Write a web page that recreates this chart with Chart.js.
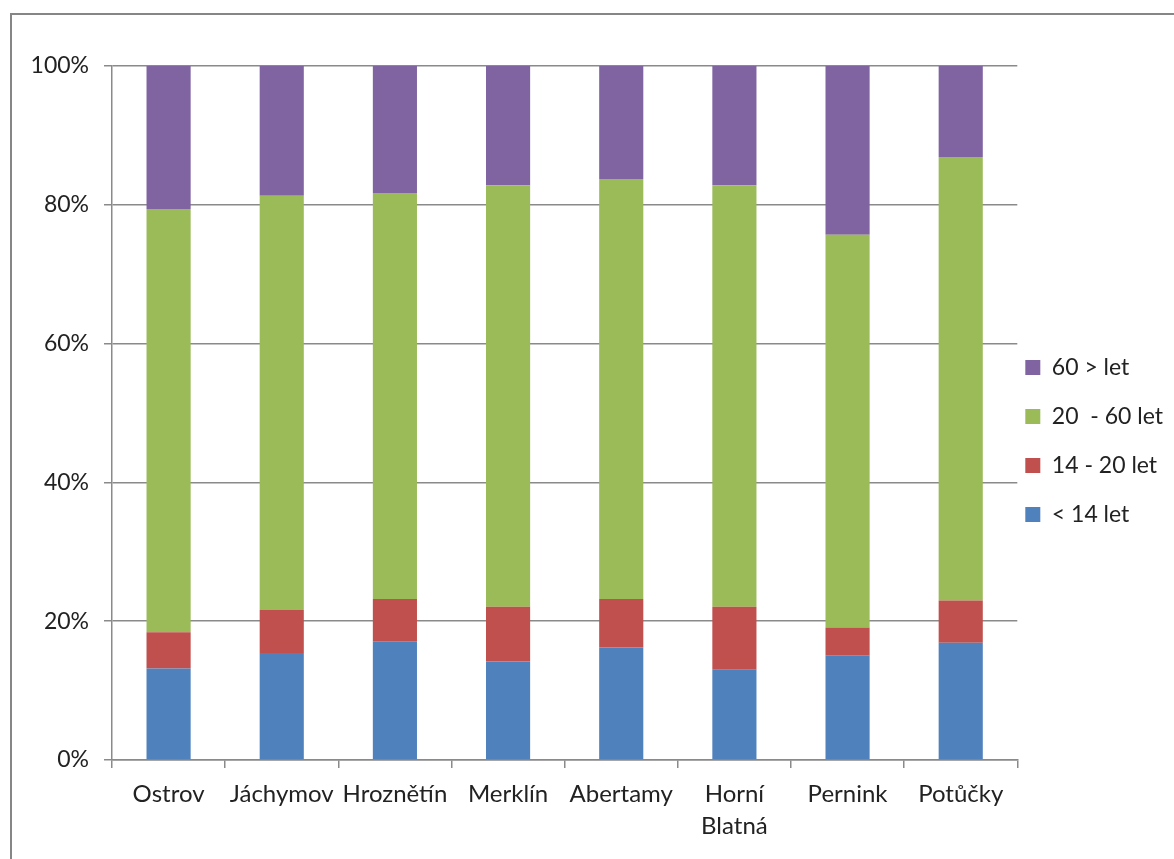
<!DOCTYPE html>
<html>
<head>
<meta charset="utf-8">
<script src="https://cdn.jsdelivr.net/npm/chart.js@4.4.1/dist/chart.umd.min.js"></script>
<style>
    html, body { margin: 0; padding: 0; background: #fff; overflow: hidden; }
    #frame {
        position: absolute; left: 10px; top: 13px; width: 1170px; height: 880px;
        border-left: 2px solid #868686; border-top: 2px solid #868686;
    }
    #wrap { position: absolute; left: 0; top: 0; width: 1162px; height: 870px; }
</style>
</head>
<body>
<div id="frame"><div id="wrap"><canvas id="ageChart"></canvas></div></div>
<script>
// Age structure by town (share of population, %)
const towns = ['Ostrov', 'Jáchymov', 'Hroznětín', 'Merklín', 'Abertamy', ['Horní', 'Blatná'], 'Pernink', 'Potůčky'];
const under14 = [13.2, 15.4, 17.1, 14.2, 16.2, 13.0, 15.1, 16.9];
const age14to20 = [5.2, 6.2, 6.1, 7.9, 7.0, 9.1, 4.0, 6.1];
const age20to60 = [61.0, 59.7, 58.5, 60.7, 60.5, 60.7, 56.6, 63.9];
const over60 = [20.6, 18.7, 18.3, 17.2, 16.3, 17.2, 24.3, 13.1];
const yTicks = [0, 20, 40, 60, 80, 100];

const seriesLabels = ['< 14 let', '14 - 20 let', '20  - 60 let', '60 > let'];
const seriesColors = ['#4F81BD', '#C0504D', '#9BBB59', '#8064A2'];

function initAgeChart() {
    const ctx = document.getElementById('ageChart');
    const family = 'Lato, "Open Sans", sans-serif';
    const gridColor = '#8a8a8a';

    const datasets = [under14, age14to20, age20to60, over60].map((data, i) => ({
        label: seriesLabels[i],
        data: data,
        xAxisID: 'x',
        yAxisID: 'y',
        backgroundColor: seriesColors[i],
        borderWidth: 0,
        categoryPercentage: 1,
        barPercentage: 0.39
    }));

    new Chart(ctx, {
        type: 'bar',
        data: { labels: towns, datasets: datasets },
        options: {
            responsive: true,
            maintainAspectRatio: false,
            animation: false,
            layout: { padding: { top: 0, right: 1, left: 0, bottom: 0 } },
            plugins: {
                tooltip: { enabled: false },
                legend: {
                    position: 'right',
                    reverse: true,
                    labels: {
                        font: { family: family, size: 23, lineHeight: '41px' },
                        color: '#222',
                        boxWidth: 15,
                        boxHeight: 15,
                        padding: 8,
                        // one-line arrays so the row height follows lineHeight
                        generateLabels: chart => {
                            const items = Chart.defaults.plugins.legend.labels.generateLabels(chart);
                            items.forEach(it => { it.text = [it.text]; it.lineWidth = 0; });
                            return items;
                        }
                    }
                }
            },
            scales: {
                x: {
                    stacked: true,
                    grid: {
                        offset: true,
                        drawOnChartArea: false,
                        color: gridColor,
                        tickLength: 8,
                        lineWidth: 1.5
                    },
                    border: { color: gridColor, width: 1.5 },
                    ticks: {
                        font: { family: family, size: 24, lineHeight: 1.3 },
                        color: '#222',
                        maxRotation: 0,
                        autoSkip: false,
                        padding: 11
                    },
                    afterFit: s => { s.height = 125; }
                },
                y: {
                    stacked: true,
                    min: 0,
                    max: 100,
                    afterBuildTicks: s => { s.ticks = yTicks.map(v => ({ value: v })); },
                    grid: {
                        color: gridColor,
                        tickLength: 8,
                        lineWidth: 1.5
                    },
                    border: { color: gridColor, width: 1.5 },
                    ticks: {
                        font: { family: family, size: 23 },
                        color: '#222',
                        padding: 15,
                        callback: v => v + '%'
                    },
                    afterFit: s => { s.width = 100; }
                },
                // empty top band, keeps the plot 51px below the frame
                top: {
                    type: 'category',
                    position: 'top',
                    grid: { display: false },
                    border: { display: false },
                    ticks: { display: false },
                    afterFit: s => { s.height = 51; }
                }
            }
        }
    });
}

initAgeChart();
</script>
</body>
</html>
